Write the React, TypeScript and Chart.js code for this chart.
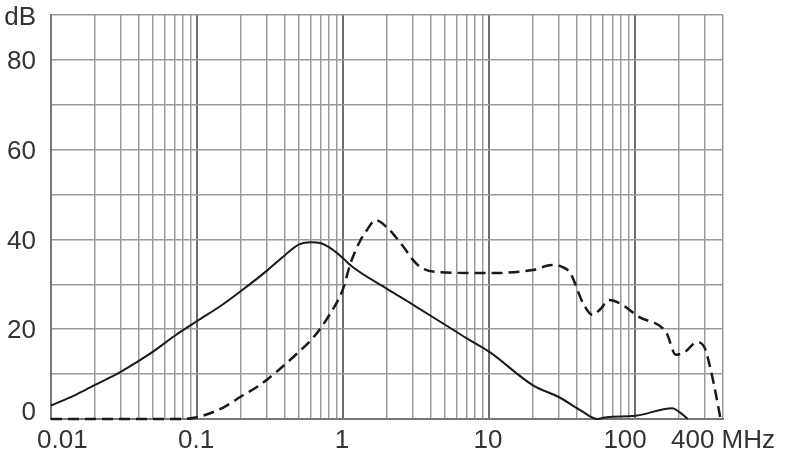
import React, { useEffect, useRef } from 'react';
import { Chart, registerables } from 'chart.js';
Chart.register(...registerables);

// Solid curve
const solidFreq = [0.01, 0.015, 0.02, 0.03, 0.05, 0.07, 0.1, 0.15, 0.2, 0.3, 0.4, 0.5, 0.6, 0.7, 0.8, 0.9, 1, 1.17, 2, 3, 5, 7, 10, 20, 30, 42, 55, 64, 100, 180, 200, 230];
const solidDb = [3, 5.5, 7.6, 10.5, 15, 18.5, 21.8, 25.5, 28.5, 33, 36.5, 38.9, 39.4, 39.2, 38.3, 37.1, 35.8, 33.8, 29, 25.5, 21, 18, 15, 7.5, 4.9, 2, 0, 0.4, 0.7, 2.4, 1.6, 0];

// Dashed curve
const dashFreq = [0.01, 0.07, 0.1, 0.15, 0.2, 0.27, 0.35, 0.5, 0.62, 0.8, 1.0, 1.12, 1.3, 1.45, 1.67, 1.98, 2.3, 2.6, 3.0, 3.4, 4.6, 10, 20, 27, 31, 36, 44, 51, 58, 66, 78, 107, 164, 190, 220, 265, 300, 330, 355, 385];
const dashDb = [0, 0, 0.4, 2.5, 5, 7.6, 10.5, 15, 18, 23, 29, 34.5, 39.5, 42, 44.3, 42.8, 40.5, 38.3, 35.5, 33.8, 32.7, 32.5, 33.2, 34.3, 34, 32.5, 25.8, 23.2, 24.5, 26.5, 25.8, 22.7, 19.2, 14.3, 15, 17.1, 15.8, 10.9, 6, 0];

// Axis labels
const xLabelValues = [0.01, 0.1, 1, 10, 100, 400];
const xLabelTexts = ['0.01', '0.1', '1', '10', '100', '400 MHz'];
const yLabelValues = [0, 20, 40, 60, 80];
const yUnit = 'dB';
const xMin = 0.01;
const xMax = 400;
const yMin = 0;
const yMax = 90;

const FONT = '"Liberation Sans", Arial, sans-serif';

const labelPlugin = {
  id: 'axisLabels',
  afterDraw(chart: any) {
    const ctx = chart.ctx;
    const xs = chart.scales.x;
    const ys = chart.scales.y;
    ctx.save();
    ctx.font = `26px ${FONT}`;
    ctx.fillStyle = '#333';
    ctx.textBaseline = 'middle';
    const y = 441;
    xLabelValues.forEach((v, i) => {
      const px = xs.getPixelForValue(v);
      const t = xLabelTexts[i];
      if (i === 0) {
        ctx.textAlign = 'left';
        ctx.fillText(t, px - 14, y);
      } else if (i === xLabelValues.length - 1) {
        ctx.textAlign = 'left';
        ctx.fillText(t, px - 52, y);
      } else if (v === 100) {
        ctx.textAlign = 'center';
        ctx.fillText(t, px - 10, y);
      } else {
        ctx.textAlign = 'center';
        ctx.fillText(t, px - 1, y);
      }
    });
    ctx.textAlign = 'right';
    yLabelValues.forEach((v) => {
      const py = ys.getPixelForValue(v);
      ctx.fillText(String(v), 36, v === 0 ? py - 6 : py + 2);
    });
    ctx.fillText(yUnit, 36, ys.getPixelForValue(yMax) + 3);
    ctx.restore();
  },
};

export default function App() {
  const ref = useRef<HTMLCanvasElement>(null);
  useEffect(() => {
    document.body.style.margin = '0';
    const chart = new Chart(ref.current!, {
      type: 'line',
      data: {
        datasets: [
          {
            data: solidFreq.map((f, i) => ({ x: f, y: solidDb[i] })),
            borderColor: '#1a1a1a',
            borderWidth: 2,
            pointRadius: 0,
            cubicInterpolationMode: 'monotone',
            fill: false,
            clip: 6,
          },
          {
            data: dashFreq.map((f, i) => ({ x: f, y: dashDb[i] })),
            borderColor: '#1a1a1a',
            borderWidth: 2.5,
            borderDash: [11, 6],
            pointRadius: 0,
            cubicInterpolationMode: 'monotone',
            fill: false,
            clip: 6,
          },
        ],
      },
      options: {
        animation: false,
        responsive: false,
        layout: { padding: { left: 0, right: 67, top: 15, bottom: 0 } },
        plugins: { legend: { display: false }, tooltip: { enabled: false } },
        scales: {
          x: {
            type: 'logarithmic',
            min: xMin,
            max: xMax,
            afterBuildTicks(scale: any) {
              const ticks: any[] = [];
              for (let d = -2; d <= 2; d++) {
                for (let m = 1; m <= 9; m++) {
                  const v = m * Math.pow(10, d);
                  if (v <= xMax * 1.0001) ticks.push({ value: v });
                }
              }
              scale.ticks = ticks;
            },
            afterFit(scale: any) {
              scale.height = 49;
            },
            ticks: { display: false },
            grid: {
              drawTicks: false,
              color: (c: any) => {
                const v = c.tick ? c.tick.value : 0;
                const l = Math.log10(v);
                return Math.abs(l - Math.round(l)) < 1e-6 ? '#6e6e6e' : '#9a9a9a';
              },
              lineWidth: (c: any) => {
                const v = c.tick ? c.tick.value : 0;
                const l = Math.log10(v);
                return Math.abs(l - Math.round(l)) < 1e-6 ? 2 : 1.5;
              },
            },
            border: { display: true, color: '#777', width: 2 },
          },
          y: {
            type: 'linear',
            min: yMin,
            max: yMax,
            afterFit(scale: any) {
              scale.width = 51;
            },
            ticks: { stepSize: 10, display: false },
            grid: { drawTicks: false, color: '#9a9a9a', lineWidth: 1.5 },
            border: { display: true, color: '#777', width: 2 },
          },
        },
      },
      plugins: [labelPlugin],
    } as any);
    return () => chart.destroy();
  }, []);
  return (
    <div style={{ width: 790, height: 468 }}>
      <canvas ref={ref} width={790} height={468} style={{ display: 'block' }} />
    </div>
  );
}
